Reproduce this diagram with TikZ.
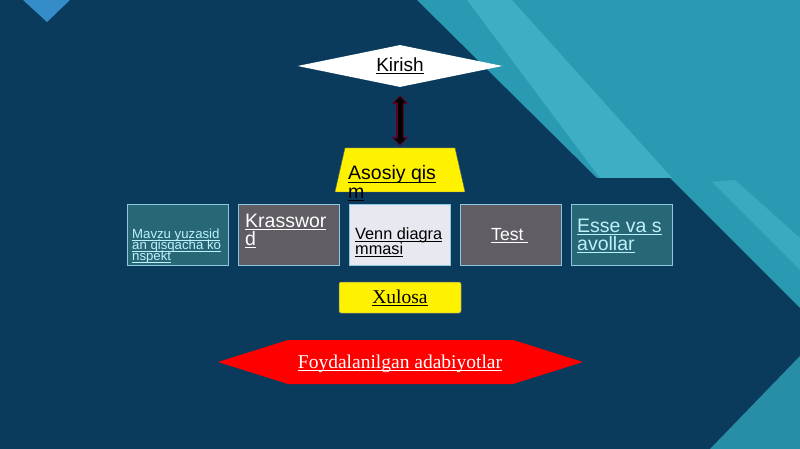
\documentclass[tikz,border=0pt]{standalone}
\usepackage{fontspec}
\setmainfont{Liberation Serif}
\setsansfont{Liberation Sans}
\newsavebox{\myulbox}
\newcommand{\myul}[1]{\sbox{\myulbox}{#1}\rlap{\vrule height -1.6pt depth 2.5pt width \wd\myulbox}\usebox{\myulbox}}
\newcommand{\mylines}[2]{\vtop{\baselineskip=#1\lineskiplimit=-100pt\lineskip=0pt #2}}
\usetikzlibrary{shapes.geometric,arrows.meta}
\definecolor{navy}{RGB}{11,59,92}
\definecolor{tealA}{RGB}{42,154,178}
\definecolor{tealB}{RGB}{40,142,168}
\definecolor{stripe}{RGB}{62,174,196}
\definecolor{tri}{RGB}{52,140,200}
\definecolor{boxteal}{RGB}{40,104,118}
\definecolor{boxgray}{RGB}{96,93,100}
\definecolor{boxlight}{RGB}{232,232,240}
\definecolor{boxborder}{RGB}{140,200,225}
\definecolor{lightcyan}{RGB}{190,240,250}
\definecolor{maroon}{RGB}{100,0,40}
\begin{document}
\begin{tikzpicture}[x=1pt,y=-1pt,
  txt/.style={inner sep=0pt, anchor=base west},
  cbox/.style={draw=boxborder, line width=0.8pt, minimum width=101pt, minimum height=61pt, inner sep=0pt},
  sfont/.style={font=\sffamily\fontsize{#1}{#1}\selectfont},
  rfont/.style={font=\rmfamily\fontsize{#1}{#1}\selectfont}]
\useasboundingbox (0,0) rectangle (800,449);
% background
\fill[navy] (0,0) rectangle (800,449);
\fill[tealA] (417,0) -- (800,0) -- (800,308) -- (670,178) -- (597,178) -- cycle;
\fill[stripe] (467,0) -- (512,0) -- (672,178) -- (600,178) -- cycle;
\fill[stripe, opacity=0.8] (712,182) -- (735,180) -- (800,238) -- (800,270) -- cycle;
\fill[tealB] (710,449) -- (800,356) -- (800,449) -- cycle;
\fill[tri] (23,0) -- (70,0) -- (47,22) -- cycle;

% Kirish
\node[diamond, aspect=4.88, fill=white, minimum width=205pt, minimum height=42pt, inner sep=0pt, sfont=19] (kirish) at (400,66) {\myul{Kirish}};

% Asosiy qism
\fill[yellow, draw=black!60, line width=0.4pt] (345,148) -- (455,148) -- (465,192) -- (335,192) -- cycle;
\coordinate (asotop) at (400,148);
\node[txt, sfont=19.5] (aso) at (348,180) {\mylines{18pt}{\hbox{\myul{Asosiy qis}}\hbox{\myul{m}}}};

% double arrow
\draw[maroon, line width=8pt, {Triangle[length=9pt,width=16pt]}-{Triangle[length=9pt,width=16pt]}, shorten <=8pt, shorten >=2pt] (kirish.south) -- (asotop);
\draw[black, line width=5pt, {Triangle[length=6pt,width=11pt]}-{Triangle[length=6pt,width=11pt]}, shorten <=9.5pt, shorten >=3.5pt] (kirish.south) -- (asotop);

% row of boxes
\node[cbox, fill=boxteal] (b1) at (178,235) {};
\node[cbox, fill=boxgray] (b2) at (289,235) {};
\node[cbox, fill=boxlight] (b3) at (400,235) {};
\node[cbox, fill=boxgray] (b4) at (511,235) {};
\node[cbox, fill=boxteal] (b5) at (622,235) {};

\node[txt, sfont=13.2, text=lightcyan] (t1) at (132,238) {\mylines{11pt}{\hbox{\myul{Mavzu yuzasid}}\hbox{\myul{an qisqacha ko}}\hbox{\myul{nspekt}}}};
\node[txt, sfont=19.5, text=white] (t2) at (245,227) {\mylines{18pt}{\hbox{\myul{Krasswor}}\hbox{\myul{d}}}};
\node[txt, sfont=16.3, text=black] (t3) at (355,239) {\mylines{15pt}{\hbox{\myul{Venn diagra}}\hbox{\myul{mmasi}}}};
\node[txt, sfont=17.6, text=white] (t4) at (491,240) {\myul{Test\ }};
\node[txt, sfont=19.5, text=lightcyan] (t5) at (577,232) {\mylines{18pt}{\hbox{\myul{Esse va s}}\hbox{\myul{avollar}}}};

% Xulosa
\node[rounded corners=2pt, fill=yellow, draw=black!50, line width=0.5pt, minimum width=122pt, minimum height=31pt, inner sep=0pt, rfont=19.5] (xulosa) at (400,297.5) {\myul{Xulosa}};

% Foydalanilgan adabiyotlar
\fill[red] (218,362) -- (288,340) -- (513,340) -- (583,362) -- (513,384) -- (288,384) -- cycle;
\node[txt, anchor=base, rfont=19.5, text=white] (foyda) at (400,368) {\myul{Foydalanilgan adabiyotlar}};
\end{tikzpicture}
\end{document}
